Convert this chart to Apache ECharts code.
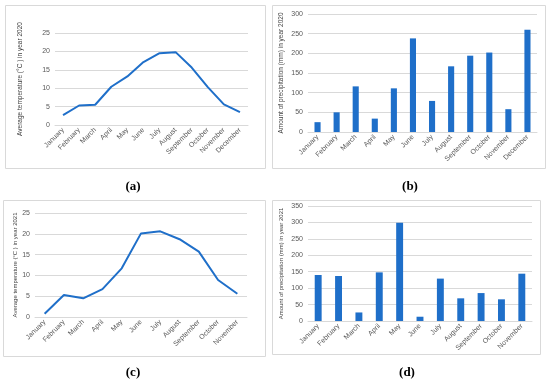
<!DOCTYPE html>
<html><head><meta charset="utf-8">
<script src="https://cdn.jsdelivr.net/npm/echarts@6/dist/echarts.min.js"></script>
<style>html,body{margin:0;padding:0;background:#fff}#c{width:550px;height:383px}</style>
</head><body><div id="c"></div>
<script>
const months2020 = ['January','February','March','April','May','June','July','August','September','October','November','December'];
const months2021 = ['January','February','March','April','May','June','July','August','September','October','November'];
const temp2020 = [2.7, 5.3, 5.5, 10.4, 13.2, 17.1, 19.5, 19.8, 15.6, 10.3, 5.6, 3.5];
const precip2020 = [25, 50, 116, 34, 111, 238, 79, 167, 194, 202, 58, 260];
const temp2021 = [0.8, 5.3, 4.5, 6.7, 11.7, 20.1, 20.6, 18.7, 15.7, 8.9, 5.6];
const precip2021 = [140, 137, 26, 148, 299, 13, 129, 69, 85, 66, 144];
const tempTitle2020 = 'Average temperature (°C ) in year 2020';
const precTitle2020 = 'Amount of precipitation (mm) in year 2020';
const tempTitle2021 = 'Average temperature (°C ) in year 2021';
const precTitle2021 = 'Amount of precipitation (mm) in year 2021';
const panelLabels = ['(a)','(b)','(c)','(d)'];

const blue = '#1f6fc9';
const txt = '#595959';
const grid = '#d9d9d9';
const font = 'Liberation Sans';

function xAx(i, cats){
  return {type:'category', gridIndex:i, data:cats, boundaryGap:true,
    axisLine:{show:true, lineStyle:{color:grid}}, axisTick:{show:false},
    axisLabel:{rotate:45, fontSize:7, color:txt, fontFamily:font, margin:4, interval:0}};
}
function yAx(i, max, interval, name, gap, nameSize){
  return {type:'value', gridIndex:i, min:0, max:max, interval:interval,
    name:name, nameLocation:'middle', nameRotate:90, nameGap:gap,
    nameTextStyle:{fontSize:nameSize, color:'#404040', fontFamily:font},
    axisLine:{show:false}, axisTick:{show:false},
    splitLine:{lineStyle:{color:grid, width:1}},
    axisLabel:{fontSize:7, color:txt, fontFamily:font, margin:5}};
}

const chart = echarts.init(document.getElementById('c'), null, {renderer:'canvas'});
const boxes = [[5,5,260,163],[272,5,273,163],[3,200,262,156],[272,200,268,154]];
const labelPos = [[133,187],[410,187],[133,373],[407,373]];
const graphic = [];
boxes.forEach(b=>graphic.push({type:'rect', shape:{x:b[0]+0.5,y:b[1]+0.5,width:b[2],height:b[3]}, style:{fill:'none', stroke:'#d9d9d9', lineWidth:1}, z:-1}));
labelPos.forEach((p,i)=>graphic.push({type:'text', x:p[0], y:p[1], style:{text:panelLabels[i], font:'bold 13px "Liberation Serif"', fill:'#000', textAlign:'center', textVerticalAlign:'middle'}}));

chart.setOption({
  animation:false,
  graphic: graphic,
  grid:[
    {left:55, top:33, width:193, height:92},
    {left:308, top:14, width:229, height:118},
    {left:35, top:213, width:212, height:104},
    {left:308, top:206, width:224, height:115}
  ],
  xAxis:[xAx(0,months2020), xAx(1,months2020), xAx(2,months2021), xAx(3,months2021)],
  yAxis:[
    yAx(0,25,5,tempTitle2020,31,6.5),
    yAx(1,300,50,precTitle2020,23,6.5),
    yAx(2,25,5,tempTitle2021,17,6),
    yAx(3,350,50,precTitle2021,24,6)
  ],
  series:[
    {type:'line', xAxisIndex:0, yAxisIndex:0, data:temp2020, symbol:'none', lineStyle:{color:blue, width:2}},
    {type:'bar', xAxisIndex:1, yAxisIndex:1, data:precip2020, barWidth:'32%', itemStyle:{color:blue}},
    {type:'line', xAxisIndex:2, yAxisIndex:2, data:temp2021, symbol:'none', lineStyle:{color:blue, width:2}},
    {type:'bar', xAxisIndex:3, yAxisIndex:3, data:precip2021, barWidth:'34%', itemStyle:{color:blue}}
  ]
});
</script></body></html>
